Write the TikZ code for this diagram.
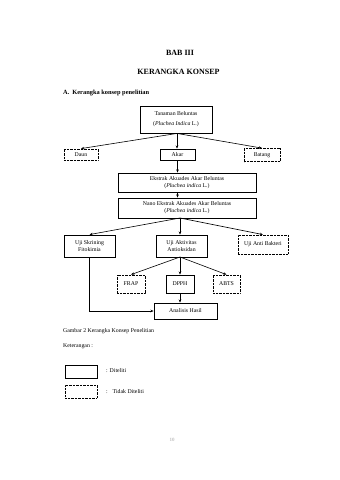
\documentclass[tikz,border=0pt]{standalone}
\usepackage{fontspec}
\setmainfont{Liberation Serif}
\usetikzlibrary{arrows.meta}
\begin{document}
\begin{tikzpicture}[x=1pt,y=-1pt,
  every node/.style={font=\fontsize{5.8}{6.8}\selectfont, align=center, inner sep=0pt},
  solidbox/.style={draw, line width=0.85pt, rectangle},
  dashbox/.style={draw, line width=0.8pt, rectangle, dash pattern=on 0.7pt off 0.7pt},
  arr/.style={-{Stealth[length=3.2pt,width=2.6pt]}, line width=0.6pt},
  heading/.style={font=\fontsize{8}{9}\selectfont\bfseries}
]
\useasboundingbox (0,0) rectangle (340,480);
% headings
\node[heading] (bab) at (180,53) {BAB III};
\node[heading] (judul) at (178.5,72) {KERANGKA KONSEP};
\node[font=\fontsize{6.4}{7}\selectfont\bfseries, anchor=west] (sub) at (63,93) {A.\hspace{3pt}Kerangka konsep penelitian};
% boxes
\node[solidbox, minimum width=72pt, minimum height=27pt] (tanaman) at (176,119.5) {Tanaman Beluntas\\[3pt](\textit{Pluchea Indica} L.)};
\node[dashbox, minimum width=34pt, minimum height=11pt] (daun) at (81,154.5) {Daun};
\node[solidbox, minimum width=35pt, minimum height=11pt] (akar) at (177.5,154.5) {Akar};
\node[dashbox, minimum width=36pt, minimum height=13pt] (batang) at (262,155) {Batang};
\node[solidbox, minimum width=138pt, minimum height=19pt] (ekstrak) at (187,182.5) {Ekstrak Akuades Akar Beluntas\\(\textit{Pluchea indica} L.)};
\node[solidbox, minimum width=138pt, minimum height=20pt] (nano) at (187,208) {Nano Ekstrak Akuades Akar Beluntas\\(\textit{Pluchea indica} L.)};
\node[solidbox, minimum width=51pt, minimum height=22pt] (skrining) at (89.5,246) {Uji Skrining\\Fitokimia};
\node[solidbox, minimum width=51pt, minimum height=22pt] (aktivitas) at (181.5,246) {Uji Aktivitas\\Antioksidan};
\node[dashbox, minimum width=50pt, minimum height=19pt] (bakteri) at (263,244.5) {Uji Anti Bakteri};
\node[dashbox, minimum width=28pt, minimum height=18pt] (frap) at (131,284) {FRAP};
\node[solidbox, minimum width=28pt, minimum height=18pt] (dpph) at (180,284) {DPPH};
\node[dashbox, minimum width=27pt, minimum height=18pt] (abts) at (226.5,284) {ABTS};
\node[solidbox, minimum width=63pt, minimum height=16pt] (analisis) at (185.5,311) {Analisis Hasil};
% connectors
\coordinate (ts) at ([xshift=1pt]tanaman.south);
\draw[arr] (ts) -- (daun.north);
\draw[arr] (ts) -- (ts |- akar.north);
\draw[arr] (ts) -- (batang.north);
\draw[arr] (akar.south) -- (akar.south |- ekstrak.north);
\draw[arr] (akar.south |- ekstrak.south) -- (akar.south |- nano.north);
\coordinate (ns) at (180,218);
\draw[arr] (ns) -- (skrining.north);
\draw[arr] (ns) -- (ns |- aktivitas.north);
\draw[arr] (ns) -- (bakteri.north);
\coordinate (as) at (180,257);
\draw[arr] (as) -- (frap.north);
\draw[arr] (as) -- (dpph.north);
\draw[arr] (as) -- (abts.north);
\draw[arr] (dpph.south) -- (dpph.south |- analisis.north);
\draw[arr] (skrining.south) |- (analisis.west);
% caption and legend
\node[anchor=west, font=\fontsize{5.8}{7}\selectfont] (caption) at (63,331) {Gambar 2 Kerangka Konsep Penelitian};
\node[anchor=west, font=\fontsize{5.8}{7}\selectfont] (ket) at (63,346) {Keterangan :};
\node[solidbox, minimum width=32pt, minimum height=13pt] (legsolid) at (81,371.5) {};
\node[dashbox, minimum width=32pt, minimum height=13pt] (legdash) at (81,391.5) {};
\node[anchor=west, font=\fontsize{5.8}{7}\selectfont] (legsolidtxt) at (106,371) {: Diteliti};
\node[anchor=west, font=\fontsize{5.8}{7}\selectfont] (legdashtxt) at (106,392) {:\hspace{3pt} Tidak Diteliti};
\node[text=black!25, font=\fontsize{5}{6}\selectfont\bfseries] (page) at (172,440) {10};
\end{tikzpicture}
\end{document}
